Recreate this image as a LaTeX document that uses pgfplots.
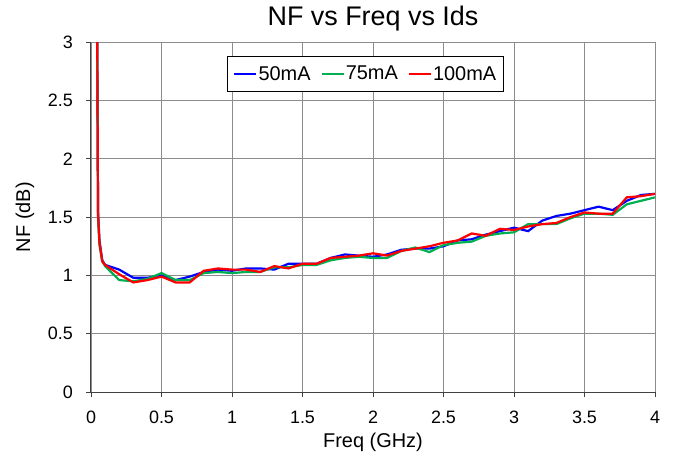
\documentclass[border=0pt]{standalone}
\usepackage{fontspec}
\setmainfont{Liberation Sans}
\usepackage{pgfplots}
\pgfplotsset{compat=1.18}
\definecolor{nfblue}{RGB}{0,0,255}
\definecolor{nfgreen}{RGB}{0,176,80}
\definecolor{nfred}{RGB}{255,0,0}

\pgfplotstableread{
f nf
0.04 4.00
0.05 1.55
0.06 1.30
0.08 1.13
0.1 1.09
0.2 1.05
0.3 0.98
0.4 0.98
0.5 1.00
0.6 0.96
0.7 0.99
0.8 1.03
0.9 1.05
1.0 1.04
1.1 1.06
1.2 1.06
1.3 1.05
1.4 1.10
1.5 1.10
1.6 1.10
1.7 1.15
1.8 1.18
1.9 1.17
2.0 1.16
2.1 1.18
2.2 1.22
2.3 1.23
2.4 1.23
2.5 1.25
2.6 1.30
2.7 1.31
2.8 1.35
2.9 1.38
3.0 1.41
3.1 1.38
3.2 1.47
3.3 1.51
3.4 1.53
3.5 1.56
3.6 1.59
3.7 1.56
3.8 1.64
3.9 1.69
4.0 1.70
}\nfA

\pgfplotstableread{
f nf
0.04 4.00
0.05 1.50
0.06 1.26
0.08 1.12
0.1 1.08
0.2 0.96
0.3 0.95
0.4 0.97
0.5 1.02
0.6 0.96
0.7 0.96
0.8 1.02
0.9 1.03
1.0 1.02
1.1 1.03
1.2 1.03
1.3 1.07
1.4 1.07
1.5 1.09
1.6 1.09
1.7 1.13
1.8 1.15
1.9 1.16
2.0 1.15
2.1 1.15
2.2 1.21
2.3 1.24
2.4 1.20
2.5 1.26
2.6 1.28
2.7 1.29
2.8 1.34
2.9 1.36
3.0 1.37
3.1 1.44
3.2 1.44
3.3 1.44
3.4 1.49
3.5 1.53
3.6 1.53
3.7 1.52
3.8 1.61
3.9 1.64
4.0 1.67
}\nfB

\pgfplotstableread{
f nf
0.04 4.20
0.05 1.52
0.06 1.28
0.08 1.12
0.1 1.09
0.2 1.01
0.3 0.94
0.4 0.96
0.5 0.99
0.6 0.94
0.7 0.94
0.8 1.04
0.9 1.06
1.0 1.05
1.1 1.05
1.2 1.03
1.3 1.08
1.4 1.06
1.5 1.10
1.6 1.10
1.7 1.15
1.8 1.16
1.9 1.17
2.0 1.19
2.1 1.17
2.2 1.21
2.3 1.23
2.4 1.25
2.5 1.28
2.6 1.30
2.7 1.36
2.8 1.34
2.9 1.40
3.0 1.39
3.1 1.42
3.2 1.44
3.3 1.45
3.4 1.50
3.5 1.54
3.6 1.53
3.7 1.53
3.8 1.67
3.9 1.68
4.0 1.70
}\nfC

\begin{document}
\begin{tikzpicture}
\useasboundingbox (-91bp,-68bp) rectangle (582bp,392bp);
\begin{axis}[
  at={(0,0)}, anchor=south west,
  scale only axis, width=564bp, height=349.7bp,
  xmin=0, xmax=4, ymin=0, ymax=3,
  xtick={0,0.5,...,4}, ytick={0,0.5,...,3},
  axis x line*=bottom, axis y line*=left,
  axis line style={black!75, line width=1bp},
  tick align=outside, major tick length=5bp,
  tick style={black!75, line width=0.8bp},
  grid=major, grid style={black!45, line width=0.8bp},
  /pgf/number format/assume math mode=true,
  tick label style={font=\fontsize{18}{21}\selectfont},
  yticklabel style={anchor=east, inner sep=0pt, xshift=-13bp},
  xticklabel style={anchor=north, inner sep=0pt, yshift=-14bp},
  title={NF vs Freq vs Ids},
  title style={at={(0.5,1)}, anchor=base, yshift=11bp, font=\fontsize{27}{30}\selectfont},
  xlabel={Freq (GHz)},
  xlabel style={at={(axis description cs:0.5,-0.16)}, anchor=base, font=\fontsize{20}{24}\selectfont},
  ylabel={NF (dB)},
  ylabel style={at={(axis description cs:-0.117,0.5)}, anchor=center, font=\fontsize{20}{24}\selectfont},
  legend columns=3,
  legend image code/.code={\draw[#1] (0bp,0bp) -- (22bp,0bp);},
  legend style={at={(0.241,0.96)}, anchor=north west, draw=black, line width=0.8bp,
    font=\fontsize{20}{24}\selectfont, inner xsep=6bp, inner ysep=7.5bp,
    nodes={inner xsep=1bp},
    /tikz/every even column/.append style={column sep=9bp}},
]
\addplot[nfblue, line width=2.2bp] table[x=f, y=nf] {\nfA};
\addlegendentry{50mA}
\addplot[nfgreen, line width=2.2bp] table[x=f, y=nf] {\nfB};
\addlegendentry{75mA}
\addplot[nfred, line width=2.2bp] table[x=f, y=nf] {\nfC};
\addlegendentry{100mA}
\end{axis}
\end{tikzpicture}
\end{document}
